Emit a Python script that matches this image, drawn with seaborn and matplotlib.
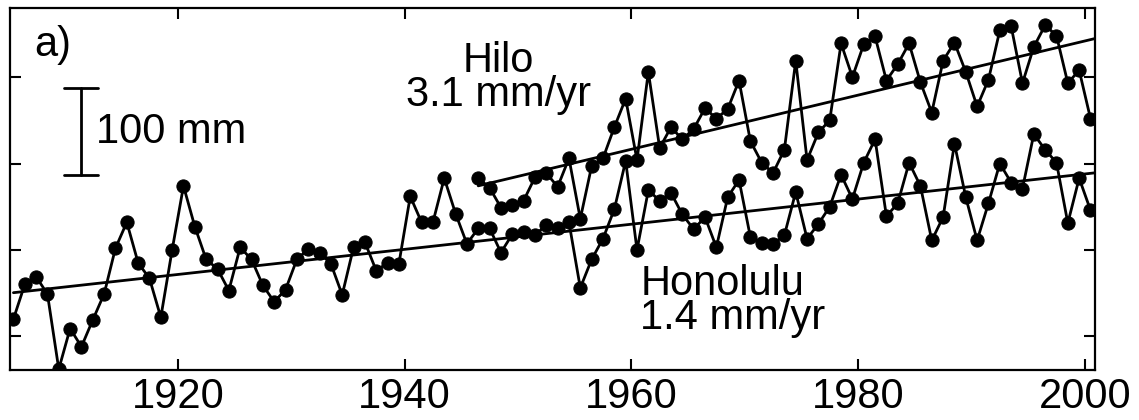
""" Annual mean sea level at Honolulu and Hilo with linear trends """

import numpy as np
import pandas as pd
import matplotlib
matplotlib.use("Agg")
import matplotlib.pyplot as plt
import seaborn as sns

# Annual means (mm, arbitrary datum)
hon_years = np.arange(1905, 2001)
hon_mm = [20, 60, 69, 49, -38, 9, -12, 19, 49, 102,
          132, 85, 67, 22, 100, 174, 127, 89, 78, 53,
          103, 89, 59, 40, 54, 89, 101, 97, 84, 48,
          103, 109, 76, 85, 84, 162, 132, 132, 183, 142,
          107, 125, 125, 97, 118, 121, 117, 129, 125, 132,
          56, 89, 113, 147, 203, 100, 169, 157, 166, 141,
          124, 138, 103, 161, 181, 115, 108, 107, 117, 167,
          113, 130, 150, 187, 159, 201, 228, 139, 154, 201,
          174, 111, 138, 223, 161, 111, 154, 200, 178, 171,
          234, 216, 201, 131, 183, 146]

hilo_years = np.arange(1946, 2001)
hilo_mm = [183, 172, 149, 152, 157, 184, 189, 173, 206, 136,
           197, 206, 242, 275, 204, 306, 218, 242, 228, 240,
           264, 252, 263, 296, 226, 201, 189, 216, 319, 204,
           236, 250, 339, 300, 338, 347, 296, 315, 339, 294,
           259, 319, 340, 306, 266, 297, 354, 359, 293, 335,
           360, 348, 293, 308, 252]

station_names = ["Hilo", "Honolulu"]
trend_text = ["3.1 mm/yr", "1.4 mm/yr"]
x_ticks = [1920, 1940, 1960, 1980, 2000]
y_ticks = [0, 100, 200, 300]

sns.set_style("ticks")
plt.rcParams['font.family'] = ['Liberation Sans', 'DejaVu Sans']
plt.rcParams['font.size'] = 30
# plain black text, like the original
for key in ["text.color", "axes.labelcolor", "xtick.color", "ytick.color", "axes.edgecolor"]:
    plt.rcParams[key] = "black"

fig = plt.figure(figsize=(11.39, 4.2), dpi=100)
ax = fig.add_axes([0.0088, 0.119, 0.9526, 0.862])

x_end = 2001.0  # trend lines run to the right edge

for years, mm in [(hilo_years, hilo_mm), (hon_years, hon_mm)]:
    df = pd.DataFrame({"t": years + 0.5, "mm": mm})  # annual means at mid-year
    sns.lineplot(data=df, x="t", y="mm", color="black", lw=2.0,
                 marker="o", markersize=9.5, markeredgecolor="black",
                 estimator=None, sort=False, ax=ax)
    coef = np.polyfit(df["t"], df["mm"], 1)
    xs = np.array([df["t"].iloc[0], x_end])
    sns.lineplot(x=xs, y=np.polyval(coef, xs), color="black", lw=2.0, ax=ax)

# 100 mm scale bar
bar_x, bar_y0 = 1911.5, 187
ax.plot([bar_x, bar_x], [bar_y0, bar_y0 + 100], color="black", lw=2.0)
ax.plot([bar_x - 1.5, bar_x + 1.5], [bar_y0, bar_y0], color="black", lw=2.0)
ax.plot([bar_x - 1.5, bar_x + 1.5], [bar_y0 + 100, bar_y0 + 100], color="black", lw=2.0)
ax.text(bar_x + 1.3, bar_y0 + 50, "100 mm", ha="left", va="center")

ax.text(1907.3, 337, "a)", ha="left", va="center")
# station labels: name over trend, set tight like the original
ax.text(1948.3, 299, station_names[0] + "\n" + trend_text[0],
        ha="center", va="center", multialignment="center", linespacing=0.8)
ax.text(1960.8, 41, station_names[1] + "\n" + trend_text[1],
        ha="left", va="center", multialignment="left", linespacing=0.8)

ax.set_xlim(1905.2, 2000.9)
ax.set_ylim(-39, 380)
ax.set_xticks(x_ticks)
ax.set_yticks(y_ticks)
ax.set_yticklabels([])
ax.set_xlabel("")
ax.set_ylabel("")
ax.tick_params(direction="in", top=True, right=True, length=8, width=1.5,
               labelsize=30, pad=5)
for spine in ax.spines.values():
    spine.set_linewidth(1.6)
    spine.set_color("black")

fig.savefig("out.png", dpi=100)
